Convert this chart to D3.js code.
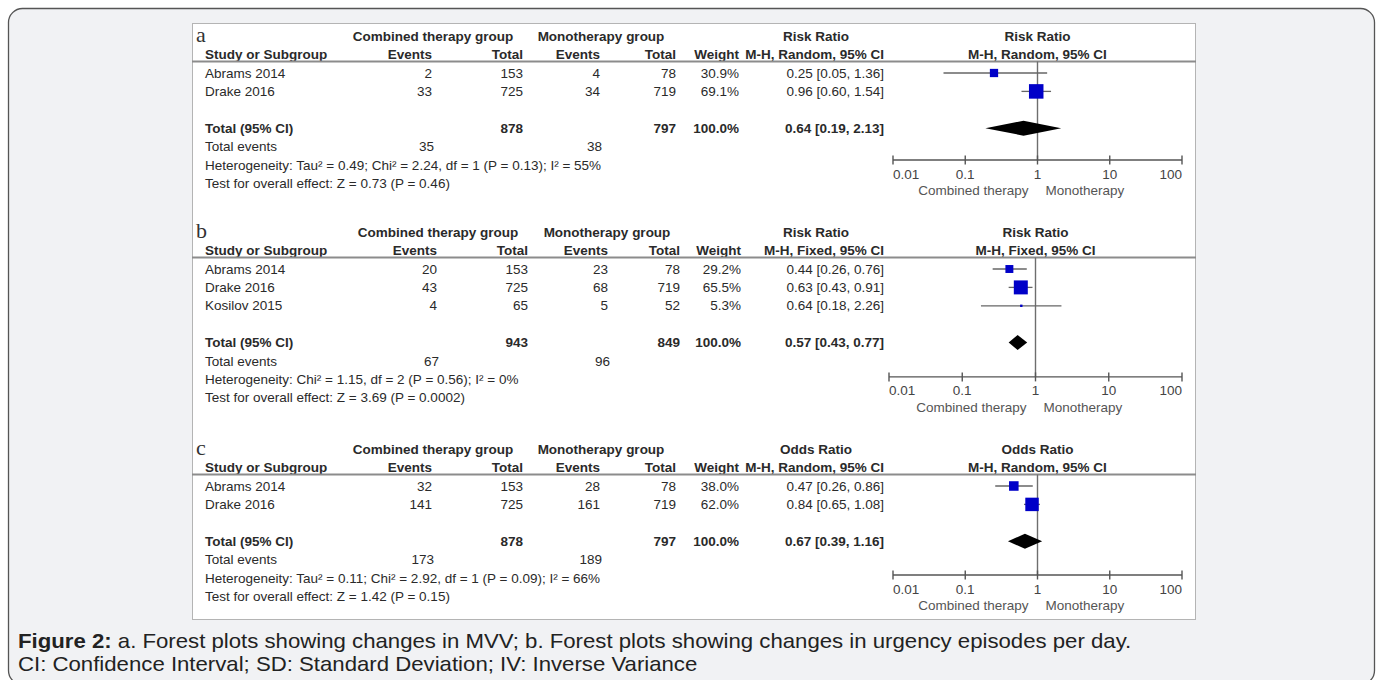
<!DOCTYPE html>
<html>
<head>
<meta charset="utf-8">
<script src="https://cdn.jsdelivr.net/npm/d3@7"></script>
<style>
  html, body { margin: 0; padding: 0; background: #ffffff; }
  svg { display: block; }
</style>
</head>
<body>
<svg id="fig" width="1380" height="680"></svg>
<script>
// ---- Panel a: risk ratio, random effects ----
const studiesA = ["Abrams 2014", "Drake 2016"];
const comboEventsA = [2, 33];
const comboTotalA = [153, 725];
const monoEventsA = [4, 34];
const monoTotalA = [78, 719];
const weightA = [30.9, 69.1];
const ratioA = [0.25, 0.96];
const lowerA = [0.05, 0.60];
const upperA = [1.36, 1.54];
const pooledA = [0.64, 0.19, 2.13];          // estimate, lower, upper
const sumsA = [878, 797, 35, 38];            // totals and total events
const hetA = "Heterogeneity: Tau\u00b2 = 0.49; Chi\u00b2 = 2.24, df = 1 (P = 0.13); I\u00b2 = 55%";
const testA = "Test for overall effect: Z = 0.73 (P = 0.46)";

// ---- Panel b: risk ratio, fixed effect ----
const studiesB = ["Abrams 2014", "Drake 2016", "Kosilov 2015"];
const comboEventsB = [20, 43, 4];
const comboTotalB = [153, 725, 65];
const monoEventsB = [23, 68, 5];
const monoTotalB = [78, 719, 52];
const weightB = [29.2, 65.5, 5.3];
const ratioB = [0.44, 0.63, 0.64];
const lowerB = [0.26, 0.43, 0.18];
const upperB = [0.76, 0.91, 2.26];
const pooledB = [0.57, 0.43, 0.77];
const sumsB = [943, 849, 67, 96];
const hetB = "Heterogeneity: Chi\u00b2 = 1.15, df = 2 (P = 0.56); I\u00b2 = 0%";
const testB = "Test for overall effect: Z = 3.69 (P = 0.0002)";

// ---- Panel c: odds ratio, random effects ----
const studiesC = ["Abrams 2014", "Drake 2016"];
const comboEventsC = [32, 141];
const comboTotalC = [153, 725];
const monoEventsC = [28, 161];
const monoTotalC = [78, 719];
const weightC = [38.0, 62.0];
const ratioC = [0.47, 0.84];
const lowerC = [0.26, 0.65];
const upperC = [0.86, 1.08];
const pooledC = [0.67, 0.39, 1.16];
const sumsC = [878, 797, 173, 189];
const hetC = "Heterogeneity: Tau\u00b2 = 0.11; Chi\u00b2 = 2.92, df = 1 (P = 0.09); I\u00b2 = 66%";
const testC = "Test for overall effect: Z = 1.42 (P = 0.15)";

// ---- shared axis ----
const axisTicks = [0.01, 0.1, 1, 10, 100];
const axisTickLabels = ["0.01", "0.1", "1", "10", "100"];
const favourLabels = ["Combined therapy", "Monotherapy"];

const panels = [
  { letter: "a", measure: "Risk Ratio", method: "M-H, Random, 95% CI",
    studies: studiesA, ce: comboEventsA, ct: comboTotalA, me: monoEventsA, mt: monoTotalA,
    w: weightA, est: ratioA, lo: lowerA, hi: upperA, pooled: pooledA, sums: sumsA,
    het: hetA, test: testA,
    top: 41, axisGap: 9.5, cols: [432, 523, 600, 676, 739, 884], groupX: [433, 601], plot: [893, 1182] },
  { letter: "b", measure: "Risk Ratio", method: "M-H, Fixed, 95% CI",
    studies: studiesB, ce: comboEventsB, ct: comboTotalB, me: monoEventsB, mt: monoTotalB,
    w: weightB, est: ratioB, lo: lowerB, hi: upperB, pooled: pooledB, sums: sumsB,
    het: hetB, test: testB,
    top: 237, axisGap: 7, cols: [437, 528, 608, 680, 741, 884], groupX: [438, 607], plot: [889, 1182] },
  { letter: "c", measure: "Odds Ratio", method: "M-H, Random, 95% CI",
    studies: studiesC, ce: comboEventsC, ct: comboTotalC, me: monoEventsC, mt: monoTotalC,
    w: weightC, est: ratioC, lo: lowerC, hi: upperC, pooled: pooledC, sums: sumsC,
    het: hetC, test: testC,
    top: 454, axisGap: 7.5, cols: [432, 523, 600, 676, 739, 884], groupX: [433, 601], plot: [893, 1182] }
];

const SANS = "'Liberation Sans', Arial, sans-serif";
const SERIF = "'Liberation Serif', 'DejaVu Serif', serif";

const svg = d3.select("#fig").style("font-family", SANS);
const f2 = d3.format(".2f");
const f1 = d3.format(".1f");
const ciText = (e, l, h) => `${f2(e)} [${f2(l)}, ${f2(h)}]`;

// outer card
svg.append("rect")
  .attr("x", 8.5).attr("y", 8.5).attr("width", 1366).attr("height", 676)
  .attr("rx", 14).attr("ry", 14)
  .attr("fill", "#f1f2f4").attr("stroke", "#555").attr("stroke-width", 1.3);

// white figure area
const box = { x: 192, y: 23, w: 1003, h: 596 };
svg.append("rect")
  .attr("x", box.x + 0.5).attr("y", box.y + 0.5).attr("width", box.w).attr("height", box.h)
  .attr("fill", "#ffffff").attr("stroke", "#b4b4b4").attr("stroke-width", 1);

const FS = 13.5;
const ROW = 18.4;
const textCol = "#2a2a2a";
const squareSide = d3.scalePow().exponent(0.7).domain([0, 100]).range([0, 18.8]);

panels.forEach(p => {
  const g = svg.append("g");
  const x = d3.scaleLog().domain([0.01, 100]).range(p.plot);
  const hdr2 = p.top + 18;
  const sep = p.top + 20.5;
  const rowY = i => p.top + 36.5 + i * ROW;
  const n = p.studies.length;
  const totalRow = n + 1, eventsRow = n + 2, hetRow = n + 3, testRow = n + 4;
  const axisY = rowY(hetRow) - p.axisGap;
  const [cE1, cT1, cE2, cT2, cW, cCI] = p.cols;

  const txt = (s, xx, yy, anchor, bold) => g.append("text").attr("x", xx).attr("y", yy)
      .attr("text-anchor", anchor || "start")
      .attr("font-size", FS).attr("fill", textCol)
      .attr("font-weight", bold ? "bold" : "normal").text(s);

  // panel letter
  g.append("text").attr("x", 196).attr("y", p.top + 1)
    .style("font-family", SERIF)
    .attr("font-size", 22).attr("fill", "#333").text(p.letter);

  // group headers
  txt("Combined therapy group", p.groupX[0], p.top, "middle", true);
  txt("Monotherapy group", p.groupX[1], p.top, "middle", true);
  txt(p.measure, (748 + cCI) / 2, p.top, "middle", true);
  txt(p.measure, x(1), p.top, "middle", true);

  // column headers
  txt("Study or Subgroup", 205, hdr2, "start", true);
  txt("Events", cE1, hdr2, "end", true);
  txt("Total", cT1, hdr2, "end", true);
  txt("Events", cE2, hdr2, "end", true);
  txt("Total", cT2, hdr2, "end", true);
  txt("Weight", cW, hdr2, "end", true);
  txt(p.method, cCI, hdr2, "end", true);
  txt(p.method, x(1), hdr2, "middle", true);

  // header rule
  g.append("line").attr("x1", box.x).attr("x2", box.x + box.w + 1)
    .attr("y1", sep).attr("y2", sep)
    .attr("stroke", "#8c8c8c").attr("stroke-width", 2.2);

  // study rows
  p.studies.forEach((s, i) => {
    const y = rowY(i);
    txt(s, 205, y, "start");
    txt(p.ce[i], cE1, y, "end");
    txt(p.ct[i], cT1, y, "end");
    txt(p.me[i], cE2, y, "end");
    txt(p.mt[i], cT2, y, "end");
    txt(f1(p.w[i]) + "%", cW, y, "end");
    txt(ciText(p.est[i], p.lo[i], p.hi[i]), cCI, y, "end");
  });

  // total rows
  const ty = rowY(totalRow);
  txt("Total (95% CI)", 205, ty, "start", true);
  txt(p.sums[0], cT1, ty, "end", true);
  txt(p.sums[1], cT2, ty, "end", true);
  txt("100.0%", cW, ty, "end", true);
  txt(ciText(p.pooled[0], p.pooled[1], p.pooled[2]), cCI, ty, "end", true);

  const ey = rowY(eventsRow);
  txt("Total events", 205, ey, "start");
  txt(p.sums[2], cE1 + 2, ey, "end");
  txt(p.sums[3], cE2 + 2, ey, "end");
  txt(p.het, 205, rowY(hetRow), "start");
  txt(p.test, 205, rowY(testRow), "start");

  // line of no effect
  g.append("line").attr("x1", x(1)).attr("x2", x(1))
    .attr("y1", sep).attr("y2", axisY)
    .attr("stroke", "#6e6e6e").attr("stroke-width", 1.4);

  // axis
  const ax = g.append("g").attr("transform", `translate(0,${axisY})`);
  ax.append("line").attr("x1", x(0.01)).attr("x2", x(100))
    .attr("stroke", "#555").attr("stroke-width", 1.4);
  ax.selectAll("line.tk").data(axisTicks).join("line").attr("class", "tk")
    .attr("x1", d => x(d)).attr("x2", d => x(d)).attr("y1", -4.5).attr("y2", 4.5)
    .attr("stroke", "#555").attr("stroke-width", 1.4);
  ax.selectAll("text.tl").data(axisTicks).join("text").attr("class", "tl")
    .attr("x", d => x(d)).attr("y", 18.5)
    .attr("text-anchor", (d, i) => i === 0 ? "start" : (i === axisTicks.length - 1 ? "end" : "middle"))
    .attr("font-size", FS).attr("fill", "#444")
    .text((d, i) => axisTickLabels[i]);
  ax.append("text").attr("x", x(1) - 9).attr("y", 35)
    .attr("text-anchor", "end").attr("font-size", FS).attr("fill", "#555").text(favourLabels[0]);
  ax.append("text").attr("x", x(1) + 8).attr("y", 35)
    .attr("text-anchor", "start").attr("font-size", FS).attr("fill", "#555").text(favourLabels[1]);

  // study CIs and weighted squares
  p.studies.forEach((s, i) => {
    const cy = rowY(i) - 4.5;
    g.append("line").attr("x1", x(p.lo[i])).attr("x2", x(p.hi[i]))
      .attr("y1", cy).attr("y2", cy)
      .attr("stroke", "#666").attr("stroke-width", 1.3);
    const side = squareSide(p.w[i]);
    g.append("rect").attr("x", x(p.est[i]) - side / 2).attr("y", cy - side / 2)
      .attr("width", side).attr("height", side).attr("fill", "#0000c8");
  });

  // pooled diamond
  const dy = rowY(totalRow) - 4.5;
  const hh = 7.5;
  const pts = [[x(p.pooled[1]), dy], [x(p.pooled[0]), dy - hh], [x(p.pooled[2]), dy], [x(p.pooled[0]), dy + hh]];
  g.append("path").attr("d", d3.line()(pts) + "Z").attr("fill", "#000");
});

// caption: slightly widened sans text on two lines
const capG = svg.append("g").attr("transform", "translate(18,0) scale(1.11,1)");
const cap = capG.append("text").attr("x", 0).attr("y", 648)
  .attr("font-size", 20).attr("fill", "#222");
cap.append("tspan").attr("font-weight", "bold").text("Figure 2:");
cap.append("tspan").text(" a. Forest plots showing changes in MVV; b. Forest plots showing changes in urgency episodes per day.");
capG.append("text").attr("x", 0).attr("y", 671)
  .attr("font-size", 20).attr("fill", "#222")
  .text("CI: Confidence Interval; SD: Standard Deviation; IV: Inverse Variance");
</script>
</body>
</html>
